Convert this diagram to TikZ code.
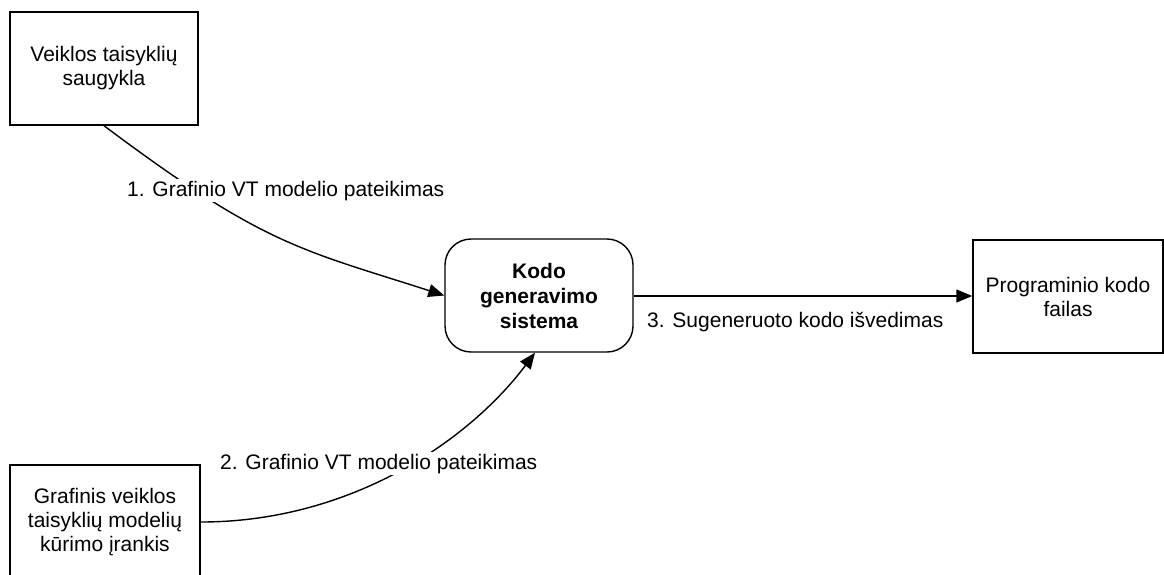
\documentclass[tikz,border=0pt]{standalone}
\usepackage{fontspec}
\setmainfont{Liberation Sans}
\usetikzlibrary{arrows.meta,calc}
\begin{document}
\begin{tikzpicture}[x=1pt,y=-1pt,
  every node/.style={font=\fontsize{21}{24}\selectfont},
  box/.style={draw,line width=1.4pt,minimum width=188pt,minimum height=113pt,
    align=center,inner sep=0pt},
  proc/.style={box,rounded corners=26pt,font=\fontsize{21}{25}\selectfont\bfseries},
  flow/.style={line width=1.4pt,-{Triangle[length=16pt,width=13pt]}},
  lbl/.style={fill=white,inner sep=2pt,anchor=base west}]
\useasboundingbox (0,0) rectangle (1164,574);

% data stores, process and output
\node[box] (store) at (104,68.5) {Veiklos taisyklių\\saugykla};
\node[box,minimum width=190pt,minimum height=114pt] (tool) at (105,522)
  {Grafinis veiklos\\taisyklių modelių\\kūrimo įrankis};
\node[proc] (gen) at (539,295.5) {Kodo\\generavimo\\sistema};
\node[box,minimum width=190pt] (out) at (1068,296.5) {Programinio kodo\\failas};

% flows
\draw[flow] (store.south) .. controls +(160,120) and +(-143,-46) .. (gen.west);
\draw[flow] (tool.east) .. controls +(150,0) and +(-66,88) .. ($(gen.south)+(-4,0)$);
\draw[flow] (gen.east |- 0,296) -- (out.west |- 0,296);

% flow labels
\node[lbl] (l1) at (125,196) {1. Grafinio VT modelio pateikimas};
\node[lbl] (l2) at (218,469) {2. Grafinio VT modelio pateikimas};
\node[lbl] (l3) at (645,327) {3. Sugeneruoto kodo išvedimas};
\end{tikzpicture}
\end{document}
